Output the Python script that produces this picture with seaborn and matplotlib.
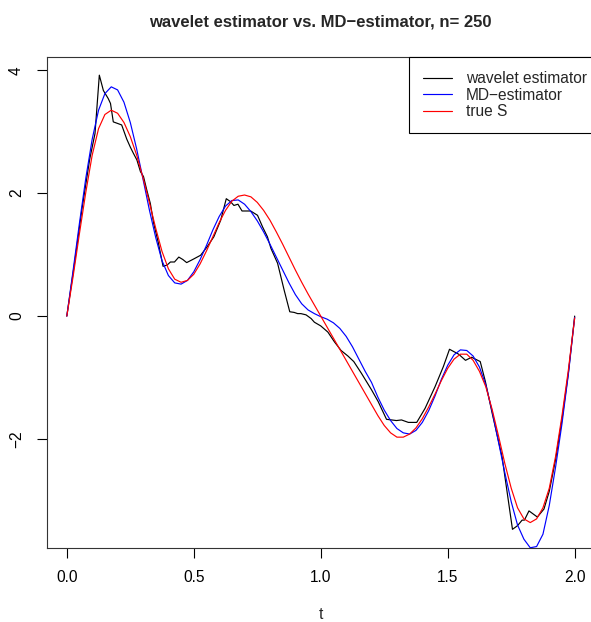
import numpy as np
import pandas as pd
import matplotlib
matplotlib.use("Agg")
import matplotlib.pyplot as plt
import seaborn as sns

# grid of the smooth curves
t_grid = [0.000, 0.025, 0.050, 0.075, 0.100, 0.125, 0.150, 0.175, 0.200, 0.225,
          0.250, 0.275, 0.300, 0.325, 0.350, 0.375, 0.400, 0.425, 0.450, 0.475,
          0.500, 0.525, 0.550, 0.575, 0.600, 0.625, 0.650, 0.675, 0.700, 0.725,
          0.750, 0.775, 0.800, 0.825, 0.850, 0.875, 0.900, 0.925, 0.950, 0.975,
          1.000, 1.025, 1.050, 1.075, 1.100, 1.125, 1.150, 1.175, 1.200, 1.225,
          1.250, 1.275, 1.300, 1.325, 1.350, 1.375, 1.400, 1.425, 1.450, 1.475,
          1.500, 1.525, 1.550, 1.575, 1.600, 1.625, 1.650, 1.675, 1.700, 1.725,
          1.750, 1.775, 1.800, 1.825, 1.850, 1.875, 1.900, 1.925, 1.950, 1.975,
          2.000]

true_s = [0.00, 0.65, 1.35, 2.02, 2.62, 3.05, 3.28, 3.35, 3.30, 3.15,
          2.92, 2.62, 2.25, 1.85, 1.43, 1.05, 0.77, 0.60, 0.55, 0.58,
          0.68, 0.85, 1.06, 1.29, 1.52, 1.72, 1.87, 1.95, 1.97, 1.94,
          1.85, 1.72, 1.56, 1.37, 1.17, 0.96, 0.75, 0.55, 0.36, 0.18,
          0.00, -0.18, -0.36, -0.54, -0.72, -0.90, -1.08, -1.26, -1.44, -1.62,
          -1.78, -1.90, -1.97, -1.97, -1.92, -1.82, -1.67, -1.48, -1.27, -1.05,
          -0.85, -0.70, -0.62, -0.62, -0.72, -0.90, -1.15, -1.52, -1.95, -2.40,
          -2.80, -3.12, -3.30, -3.36, -3.30, -3.12, -2.80, -2.28, -1.62, -0.88,
          -0.03]

md_est = [0.00, 0.75, 1.52, 2.25, 2.88, 3.35, 3.62, 3.73, 3.68, 3.48,
          3.15, 2.72, 2.23, 1.73, 1.28, 0.90, 0.66, 0.54, 0.52, 0.58,
          0.72, 0.92, 1.15, 1.40, 1.62, 1.79, 1.88, 1.89, 1.82, 1.70,
          1.55, 1.37, 1.17, 0.96, 0.75, 0.54, 0.35, 0.20, 0.10, 0.04,
          -0.01, -0.05, -0.11, -0.20, -0.33, -0.50, -0.70, -0.90, -1.08, -1.32,
          -1.53, -1.70, -1.83, -1.90, -1.92, -1.86, -1.73, -1.54, -1.30, -1.03,
          -0.80, -0.63, -0.55, -0.56, -0.65, -0.83, -1.12, -1.55, -2.05, -2.55,
          -3.02, -3.40, -3.63, -3.77, -3.75, -3.55, -3.08, -2.45, -1.75, -0.95,
          -0.02]

# wavelet estimate (piecewise, rougher)
t_wav = [0.000, 0.030, 0.060, 0.090, 0.111, 0.128, 0.144, 0.163, 0.172, 0.183,
         0.203, 0.216, 0.236, 0.250, 0.262, 0.276, 0.290, 0.302, 0.315, 0.329,
         0.342, 0.360, 0.379, 0.395, 0.408, 0.424, 0.441, 0.457, 0.472, 0.500,
         0.527, 0.553, 0.579, 0.606, 0.628, 0.645, 0.658, 0.674, 0.690, 0.711,
         0.724, 0.751, 0.771, 0.790, 0.804, 0.830, 0.856, 0.878, 0.895, 0.909,
         0.922, 0.942, 0.962, 0.975, 1.000, 1.028, 1.054, 1.080, 1.107, 1.130,
         1.160, 1.200, 1.226, 1.259, 1.279, 1.298, 1.318, 1.345, 1.378, 1.411,
         1.450, 1.483, 1.507, 1.543, 1.570, 1.594, 1.628, 1.648, 1.675, 1.714,
         1.755, 1.775, 1.793, 1.802, 1.820, 1.853, 1.879, 1.900, 1.925, 1.950,
         1.975, 2.000]
wavelet = [0.00, 0.85, 1.75, 2.55, 2.97, 3.92, 3.67, 3.54, 3.46, 3.16,
           3.13, 3.11, 2.88, 2.75, 2.65, 2.54, 2.35, 2.27, 2.05, 1.83,
           1.51, 1.20, 0.81, 0.83, 0.88, 0.88, 0.96, 0.92, 0.87, 0.93,
           0.99, 1.13, 1.29, 1.56, 1.91, 1.86, 1.80, 1.82, 1.71, 1.71,
           1.71, 1.64, 1.45, 1.29, 1.10, 0.86, 0.42, 0.07, 0.06, 0.04,
           0.04, 0.02, -0.04, -0.10, -0.16, -0.26, -0.42, -0.56, -0.65, -0.74,
           -0.93, -1.20, -1.39, -1.68, -1.69, -1.70, -1.69, -1.73, -1.73, -1.50,
           -1.15, -0.82, -0.54, -0.62, -0.72, -0.67, -0.74, -1.06, -1.58, -2.29,
           -3.47, -3.41, -3.32, -3.32, -3.17, -3.27, -3.14, -2.85, -2.33, -1.68,
           -0.93, 0.00]

x_ticks = [0.0, 0.5, 1.0, 1.5, 2.0]
x_tick_labels = ["0.0", "0.5", "1.0", "1.5", "2.0"]
y_ticks = [-2, 0, 2, 4]
y_tick_labels = ["\u22122", "0", "2", "4"]

title = "wavelet estimator vs. MD\u2212estimator, n= 250"
series_names = ["wavelet estimator", "MD\u2212estimator", "true S"]
series_colors = ["black", "blue", "red"]

sns.set_theme(style="ticks")
plt.rcParams["font.family"] = ["Liberation Sans", "DejaVu Sans"]
plt.rcParams["axes.unicode_minus"] = True

df_wav = pd.DataFrame({"t": t_wav, "value": wavelet})
df_md = pd.DataFrame({"t": t_grid, "value": md_est})
df_true = pd.DataFrame({"t": t_grid, "value": true_s})

W, H = 591, 622
fig = plt.figure(figsize=(W / 100, H / 100), dpi=100)
left, right, top, bottom = 46.5, 595.0, 57.0, 547.5
ax = fig.add_axes([left / W, 1 - bottom / H, (right - left) / W, (bottom - top) / H])

for df, name, col in zip([df_wav, df_md, df_true], series_names, series_colors):
    sns.lineplot(data=df, x="t", y="value", color=col, linewidth=0.85,
                 estimator=None, sort=False, label=name, ax=ax,
                 solid_joinstyle="round")

# R-style limits: 4% padding around the data ranges
tmin, tmax = 0.0, 2.0
xpad = 0.04 * (tmax - tmin)
ax.set_xlim(tmin - xpad, tmax + xpad)
ymin, ymax = min(wavelet), max(wavelet)
ypad = 0.04 * (ymax - ymin)
ax.set_ylim(ymin - ypad, ymax + ypad)

ax.set_xticks(x_ticks)
ax.set_xticklabels(x_tick_labels)
ax.set_yticks(y_ticks)
ax.set_yticklabels(y_tick_labels, rotation=90, va="center")
ax.tick_params(axis="both", direction="out", length=7.2, width=0.8,
               pad=9.0, labelsize=11.2, colors="black")
for s in ax.spines.values():
    s.set_visible(True)
    s.set_linewidth(0.8)
    s.set_color("#333333")

ax.set_xlabel("t", fontsize=11.2, labelpad=16)
ax.set_ylabel("")
ax.set_title(title, fontsize=12.0, fontweight="bold", pad=22)

leg = ax.legend(loc="upper right", bbox_to_anchor=(1 + 6 / (right - left), 1.0),
                borderaxespad=0.0, fontsize=11.2, frameon=True, fancybox=False,
                framealpha=1.0, edgecolor="black", handlelength=1.87,
                handletextpad=0.9, borderpad=0.9, labelspacing=0.1)
leg.get_frame().set_linewidth(0.8)

fig.savefig("out.png", dpi=100)
